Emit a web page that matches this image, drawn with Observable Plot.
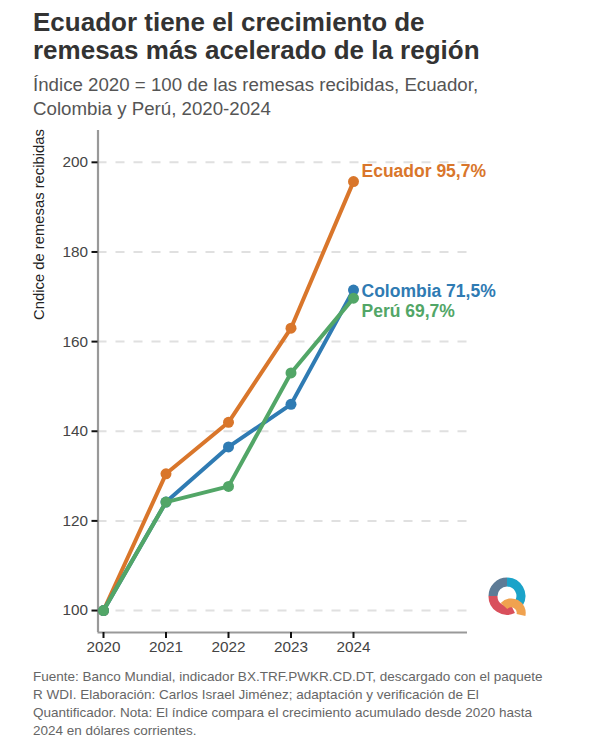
<!DOCTYPE html>
<html>
<head>
<meta charset="utf-8">
<script src="https://cdn.jsdelivr.net/npm/d3@7"></script>
<script src="https://cdn.jsdelivr.net/npm/@observablehq/plot@0.6"></script>
<style>
html,body{margin:0;padding:0;background:#fff;font-family:"Liberation Sans",Arial,sans-serif;}
#page{position:relative;width:600px;height:750px;overflow:hidden;}
#title{position:absolute;left:33px;top:9px;font-size:26px;line-height:27.5px;font-weight:700;color:#333;white-space:nowrap;}
#subtitle{position:absolute;left:33px;top:72.5px;font-size:18.7px;line-height:24px;color:#555;white-space:nowrap;}
#chart{position:absolute;left:0;top:120px;}
#caption{position:absolute;left:33px;top:667.5px;font-size:13.5px;line-height:18.2px;color:#666;white-space:nowrap;}
#logo{position:absolute;left:485px;top:574px;}
svg{display:block;}
</style>
</head>
<body>
<div id="page">
<div id="title">Ecuador tiene el crecimiento de<br>remesas más acelerado de la región</div>
<div id="subtitle">Índice 2020 = 100 de las remesas recibidas, Ecuador,<br>Colombia y Perú, 2020-2024</div>
<div id="chart"></div>
<div id="caption">Fuente: Banco Mundial, indicador BX.TRF.PWKR.CD.DT, descargado con el paquete<br>R WDI. Elaboración: Carlos Israel Jiménez; adaptación y verificación de El<br>Quantificador. Nota: El índice compara el crecimiento acumulado desde 2020 hasta<br>2024 en dólares corrientes.</div>
<svg id="logo" width="44" height="44" viewBox="0 0 44 44">
  <g fill="none" stroke-width="9">
    <path d="M22 8 A14 14 0 0 1 34 29" stroke="#1ba3c9"/>
    <path d="M22 8 A14 14 0 0 0 8 22" stroke="#5d7b96"/>
    <path d="M8 22 A14 14 0 0 0 28 35" stroke="#d9505c"/>
    <path d="M19 32 A10 10 0 0 1 36 41" stroke="#f0a24f"/>
  </g>
</svg>
</div>
<script>
const years = [2020, 2021, 2022, 2023, 2024];
const ecuador = [100, 130.5, 142, 163, 195.7];
const colombia = [100, 124.2, 136.5, 146, 171.5];
const peru = [100, 124.2, 127.7, 153, 169.7];
const names = ["Ecuador", "Colombia", "Perú"];
const colors = ["#d9762b", "#2f7bb3", "#52a667"];
const endLabels = ["Ecuador 95,7%", "Colombia 71,5%", "Perú 69,7%"];
const labelOffsets = [-10, 1, 13];
const yTicks = [100, 120, 140, 160, 180, 200];

const seriesValues = [ecuador, colombia, peru];
const rows = names.flatMap((name, i) =>
  years.map((year, j) => ({name, year, value: seriesValues[i][j]})));

const seriesMarks = names.flatMap((name, i) => {
  const data = rows.filter(d => d.name === name);
  return [
    Plot.line(data, {x: "year", y: "value", stroke: colors[i], strokeWidth: 4, strokeLinejoin: "round", strokeLinecap: "round"}),
    Plot.dot(data, {x: "year", y: "value", fill: colors[i], r: 5.5})
  ];
});
const labelMarks = names.map((name, i) =>
  Plot.text([{year: years[4], value: seriesValues[i][4]}], {
    x: "year", y: "value", text: () => endLabels[i], fill: colors[i],
    textAnchor: "start", dx: 8, dy: labelOffsets[i],
    fontWeight: 700, fontSize: 17.5
  }));

const plot = Plot.plot({
  width: 600, height: 545,
  marginLeft: 97.5, marginRight: 133, marginTop: 10, marginBottom: 33,
  style: {fontFamily: '"Liberation Sans",Arial,sans-serif', background: "transparent"},
  x: {domain: [2019.912, 2025.824], axis: null},
  y: {domain: [95.1, 207.1], axis: null},
  marks: [
    Plot.ruleY(yTicks, {stroke: "#e0e0e0", strokeWidth: 2, strokeDasharray: "9 9"}),
    Plot.ruleX([2019.912], {stroke: "#999", strokeWidth: 2.2}),
    Plot.ruleY([95.1], {stroke: "#999", strokeWidth: 2.2}),
    Plot.axisY(yTicks, {
      anchor: "left", tickSize: 6, tickPadding: 4, stroke: "#111", strokeWidth: 2,
      fontSize: 15.3, color: "#444", tickFormat: d => String(d),
      label: null
    }),
    Plot.axisX(years, {
      anchor: "bottom", tickSize: 6, tickPadding: 3, stroke: "#111", strokeWidth: 2,
      fontSize: 15.3, color: "#444", tickFormat: d => String(d),
      label: null
    }),
    Plot.text(["Cndice de remesas recibidas"], {
      frameAnchor: "left", textAnchor: "middle", text: d => d, rotate: -90, dx: -58.5, dy: -157,
      fontSize: 14.8, fill: "#222"
    }),
    ...seriesMarks,
    ...labelMarks
  ]
});
document.getElementById("chart").appendChild(plot);
</script>
</body>
</html>
